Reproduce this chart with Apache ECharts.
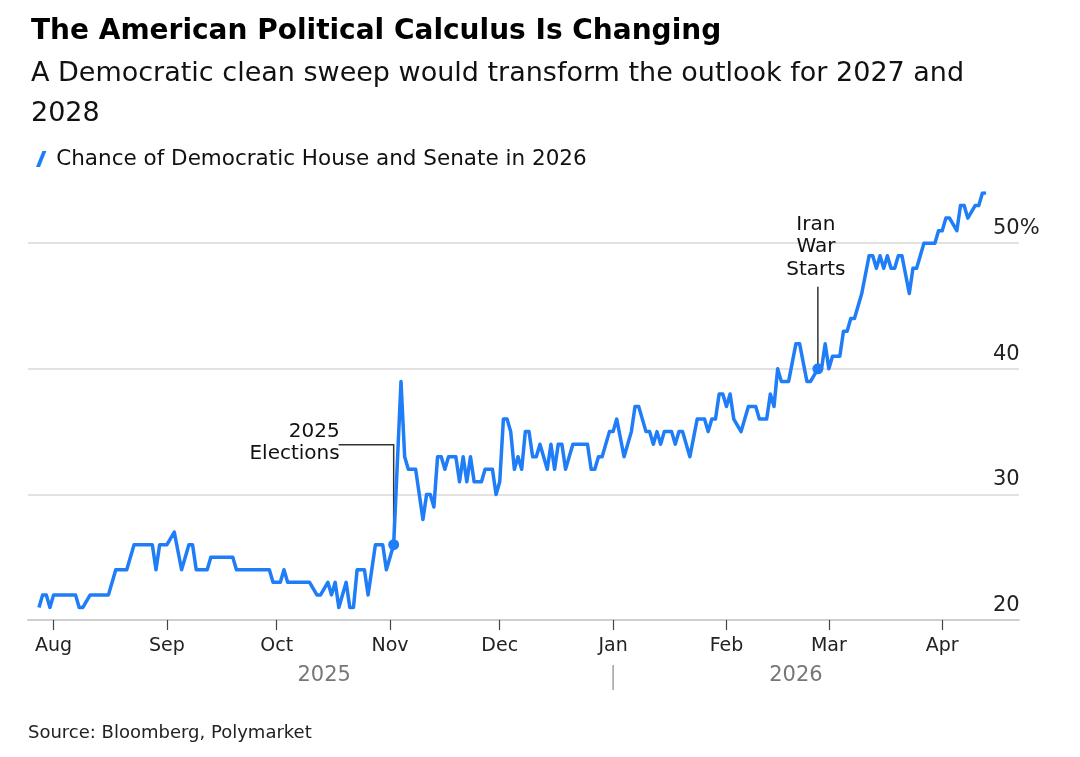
<!DOCTYPE html>
<html>
<head>
<meta charset="utf-8">
<script src="https://cdn.jsdelivr.net/npm/echarts@6/dist/echarts.min.js"></script>
<style>
html,body{margin:0;padding:0;background:#fff;}
#chart{width:1080px;height:757px;}
</style>
</head>
<body>
<div id="chart"></div>
<script>
const titleText = 'The American Political Calculus Is Changing';
const subtitleText = 'A Democratic clean sweep would transform the outlook for 2027 and\n2028';
const seriesName = 'Chance of Democratic House and Senate in 2026';
const sourceText = 'Source: Bloomberg, Polymarket';
const monthNames = ['Jan','Feb','Mar','Apr','May','Jun','Jul','Aug','Sep','Oct','Nov','Dec'];
const yearLabels = [['2025','2025-10-14'],['2026','2026-02-20']];
const yearSplit = '2026-01-01';

const dates = [
'2025-07-28','2025-07-29','2025-07-30','2025-07-31','2025-08-01','2025-08-07','2025-08-08','2025-08-09','2025-08-11','2025-08-16',
'2025-08-18','2025-08-21','2025-08-23','2025-08-28','2025-08-29','2025-08-30','2025-09-01','2025-09-03','2025-09-05','2025-09-07',
'2025-09-08','2025-09-09','2025-09-12','2025-09-13','2025-09-19','2025-09-20','2025-09-29','2025-09-30','2025-10-02','2025-10-03',
'2025-10-04','2025-10-10','2025-10-12','2025-10-13','2025-10-15','2025-10-16','2025-10-17','2025-10-18','2025-10-20','2025-10-21',
'2025-10-22','2025-10-23','2025-10-25','2025-10-26','2025-10-28','2025-10-30','2025-10-31','2025-11-02','2025-11-04','2025-11-05',
'2025-11-06','2025-11-08','2025-11-10','2025-11-11','2025-11-12','2025-11-13','2025-11-14','2025-11-15','2025-11-16','2025-11-17',
'2025-11-19','2025-11-20','2025-11-21','2025-11-22','2025-11-23','2025-11-24','2025-11-26','2025-11-27','2025-11-29','2025-11-30',
'2025-12-01','2025-12-02','2025-12-03','2025-12-04','2025-12-05','2025-12-06','2025-12-07','2025-12-08','2025-12-09','2025-12-10',
'2025-12-11','2025-12-12','2025-12-14','2025-12-15','2025-12-16','2025-12-17','2025-12-18','2025-12-19','2025-12-21','2025-12-25',
'2025-12-26','2025-12-27','2025-12-28','2025-12-29','2025-12-31','2026-01-01','2026-01-02','2026-01-04','2026-01-06','2026-01-07',
'2026-01-08','2026-01-10','2026-01-11','2026-01-12','2026-01-13','2026-01-14','2026-01-15','2026-01-17','2026-01-18','2026-01-19',
'2026-01-20','2026-01-22','2026-01-24','2026-01-26','2026-01-27','2026-01-28','2026-01-29','2026-01-30','2026-01-31','2026-02-01',
'2026-02-02','2026-02-03','2026-02-05','2026-02-07','2026-02-09','2026-02-10','2026-02-12','2026-02-13','2026-02-14','2026-02-15',
'2026-02-16','2026-02-18','2026-02-20','2026-02-21','2026-02-23','2026-02-24','2026-02-26','2026-02-27','2026-02-28','2026-03-01',
'2026-03-02','2026-03-04','2026-03-05','2026-03-06','2026-03-07','2026-03-08','2026-03-09','2026-03-10','2026-03-12','2026-03-13',
'2026-03-14','2026-03-15','2026-03-16','2026-03-17','2026-03-18','2026-03-19','2026-03-20','2026-03-21','2026-03-23','2026-03-24',
'2026-03-25','2026-03-27','2026-03-30','2026-03-31','2026-04-01','2026-04-02','2026-04-03','2026-04-05','2026-04-06','2026-04-07',
'2026-04-08','2026-04-10','2026-04-11','2026-04-12','2026-04-13'
];
const values = [
21,22,22,21,22,22,21,21,22,22,
24,24,26,26,24,26,26,27,24,26,
26,24,24,25,25,24,24,23,23,24,
23,23,22,22,23,22,23,21,23,21,
21,24,24,22,26,26,24,26,39,33,
32,32,28,30,30,29,33,33,32,33,
33,31,33,31,33,31,31,32,32,30,
31,36,36,35,32,33,32,35,35,33,
33,34,32,34,32,34,34,32,34,34,
32,32,33,33,35,35,36,33,35,37,
37,35,35,34,35,34,35,35,34,35,
35,33,36,36,35,36,36,38,38,37,
38,36,35,37,37,36,36,38,37,40,
39,39,42,42,39,39,40,40,42,40,
41,41,43,43,44,44,45,46,49,49,
48,49,48,49,48,48,49,49,46,48,
48,50,50,51,51,52,52,51,53,53,
52,53,53,54,54
];
const annotations = [
  {date:'2025-11-02', value:26, text:'2025\nElections', kind:'left'},
  {date:'2026-02-26', value:40, text:'Iran\nWar\nStarts', kind:'top'}
];

const chart = echarts.init(document.getElementById('chart'));
const FONT = '"DejaVu Sans", "Liberation Sans", Arial, sans-serif';
const BLUE = '#1e7df7';
const data = dates.map((d,i)=>[d, values[i]]);

chart.setOption({
  animation:false,
  backgroundColor:'#fff',
  textStyle:{fontFamily:FONT},
  title:{
    left:26, top:13,
    text:titleText,
    textStyle:{fontSize:28, fontWeight:'bold', color:'#000', fontFamily:FONT},
    subtext:subtitleText,
    subtextStyle:{fontSize:27, color:'#111', lineHeight:40, fontFamily:FONT},
    itemGap:8
  },
  legend:{
    left:31, top:143,
    icon:'path://M4,0 L6.5,0 L2.5,10 L0,10 Z',
    itemWidth:12, itemHeight:16, itemGap:10,
    textStyle:{fontSize:21.5, color:'#111', fontFamily:FONT, padding:[0,0,0,4]},
    data:[{name:seriesName, itemStyle:{color:BLUE}}]
  },
  grid:{left:28, right:61, top:193, bottom:137, containLabel:false},
  xAxis:{
    type:'time',
    min:'2025-07-25', max:'2026-04-22',
    minInterval:28*86400000, maxInterval:31*86400000,
    axisLine:{show:true, lineStyle:{color:'#cfcfcf', width:2}},
    axisTick:{show:true, length:10, lineStyle:{color:'#444', width:1.2}},
    splitLine:{show:false},
    axisLabel:{
      fontSize:19, color:'#222', margin:17, fontFamily:FONT,
      formatter:function(v){ return monthNames[new Date(v).getMonth()]; }
    }
  },
  yAxis:{
    type:'value', position:'right',
    min:20, max:54, interval:10,
    axisLine:{show:false}, axisTick:{show:false},
    splitLine:{show:true, lineStyle:{color:['transparent','#d9d9d9','#d9d9d9','#d9d9d9','transparent'], width:1.5}},
    axisLabel:{
      showMaxLabel:false,
      fontSize:21, color:'#222', margin:-26, align:'left', verticalAlign:'bottom', padding:[0,0,4,0], fontFamily:FONT,
      formatter:function(v){ return v===50 ? '50%' : String(v); }
    }
  },
  series:[{
    name:seriesName, type:'line', data:data,
    showSymbol:false, symbol:'none',
    lineStyle:{color:BLUE, width:3.5, join:'round'},
    itemStyle:{color:BLUE},
    z:3,
    markPoint:{
      symbol:'circle', symbolSize:11, label:{show:false},
      itemStyle:{color:BLUE},
      data:annotations.map(a=>({coord:[a.date,a.value]}))
    }
  }]
});

function addGraphics(){
  const els = [];
  annotations.forEach(a=>{
    const p = chart.convertToPixel({gridIndex:0},[a.date,a.value]);
    if(a.kind==='left'){
      const ly = p[1]-100;
      els.push({type:'polyline', z:2, shape:{points:[[p[0],p[1]],[p[0],ly],[p[0]-55,ly]]}, style:{stroke:'#333', lineWidth:1.5, fill:null}});
      els.push({type:'text', z:5, x:p[0]-54, y:ly-2, style:{text:a.text, font:'20px '+FONT, fill:'#111', align:'right', verticalAlign:'middle', lineHeight:22}});
    } else {
      els.push({type:'line', z:2, shape:{x1:p[0],y1:p[1],x2:p[0],y2:p[1]-82}, style:{stroke:'#333', lineWidth:1.5}});
      els.push({type:'text', z:5, x:p[0]-2, y:p[1]-122, style:{text:a.text, font:'20px '+FONT, fill:'#111', align:'center', verticalAlign:'middle', lineHeight:22.5}});
    }
  });
  const axisY = chart.convertToPixel({gridIndex:0},['2026-01-01',20])[1];
  yearLabels.forEach(y=>{
    const x = chart.convertToPixel({gridIndex:0},[y[1],20])[0];
    els.push({type:'text', x:x, y:axisY+56, style:{text:y[0], font:'21px '+FONT, fill:'#777', align:'center', verticalAlign:'middle'}});
  });
  const sx = chart.convertToPixel({gridIndex:0},[yearSplit,20])[0];
  els.push({type:'line', shape:{x1:sx,y1:axisY+45,x2:sx,y2:axisY+70}, style:{stroke:'#888', lineWidth:1.2}});
  els.push({type:'text', x:28, y:733, style:{text:sourceText, font:'18px '+FONT, fill:'#222', align:'left', verticalAlign:'middle'}});
  chart.setOption({graphic:els});
}
addGraphics();
</script>
</body>
</html>
